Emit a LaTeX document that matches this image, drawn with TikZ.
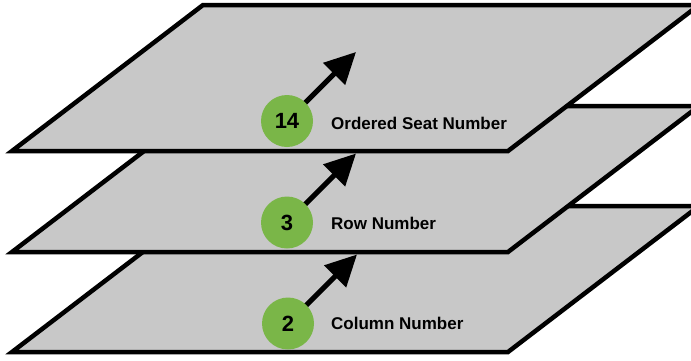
\documentclass[tikz,border=0pt]{standalone}
\usepackage{fontspec}
\setmainfont{Liberation Sans}
\usetikzlibrary{arrows.meta}
\definecolor{planegray}{HTML}{C8C8C8}
\definecolor{seatgreen}{HTML}{7AB648}
\begin{document}
\begin{tikzpicture}[x=1pt,y=-1pt,
  plane/.style={fill=planegray,draw=black,line width=4.5pt,line join=miter},
  badge/.style={circle,fill=seatgreen,minimum size=52pt,inner sep=0pt,
    font=\fontsize{22}{22}\selectfont\bfseries},
  caption/.style={anchor=base west,inner sep=0pt,
    font=\fontsize{17}{17}\selectfont\bfseries},
  pointer/.style={line width=5pt,-{Triangle[length=31pt,width=30pt]}}]
\useasboundingbox (0,0) rectangle (691,360);

% bottom layer: column
\draw[plane] (12,352) -- (508,352) -- (699,206) -- (203,206) -- cycle;
\coordinate (p2) at (288,323.5);
\coordinate (t2) at (357,254.5);
\draw[pointer] (p2) -- (t2);
\node[badge] (c2) at (p2) {2};
\node[caption] (l2) at (331,329) {Column Number};

% middle layer: row
\draw[plane] (12,252) -- (508,252) -- (699,106) -- (203,106) -- cycle;
\coordinate (p3) at (287,222.5);
\coordinate (t3) at (356,153.5);
\draw[pointer] (p3) -- (t3);
\node[badge] (c3) at (p3) {3};
\node[caption] (l3) at (331,229) {Row Number};

% top layer: ordered seat
\draw[plane] (12,151) -- (508,151) -- (699,5) -- (203,5) -- cycle;
\coordinate (p14) at (287,121);
\coordinate (t14) at (356,52);
\draw[pointer] (p14) -- (t14);
\node[badge] (c14) at (p14) {14};
\node[caption] (l14) at (331,129) {Ordered Seat Number};
\end{tikzpicture}
\end{document}
